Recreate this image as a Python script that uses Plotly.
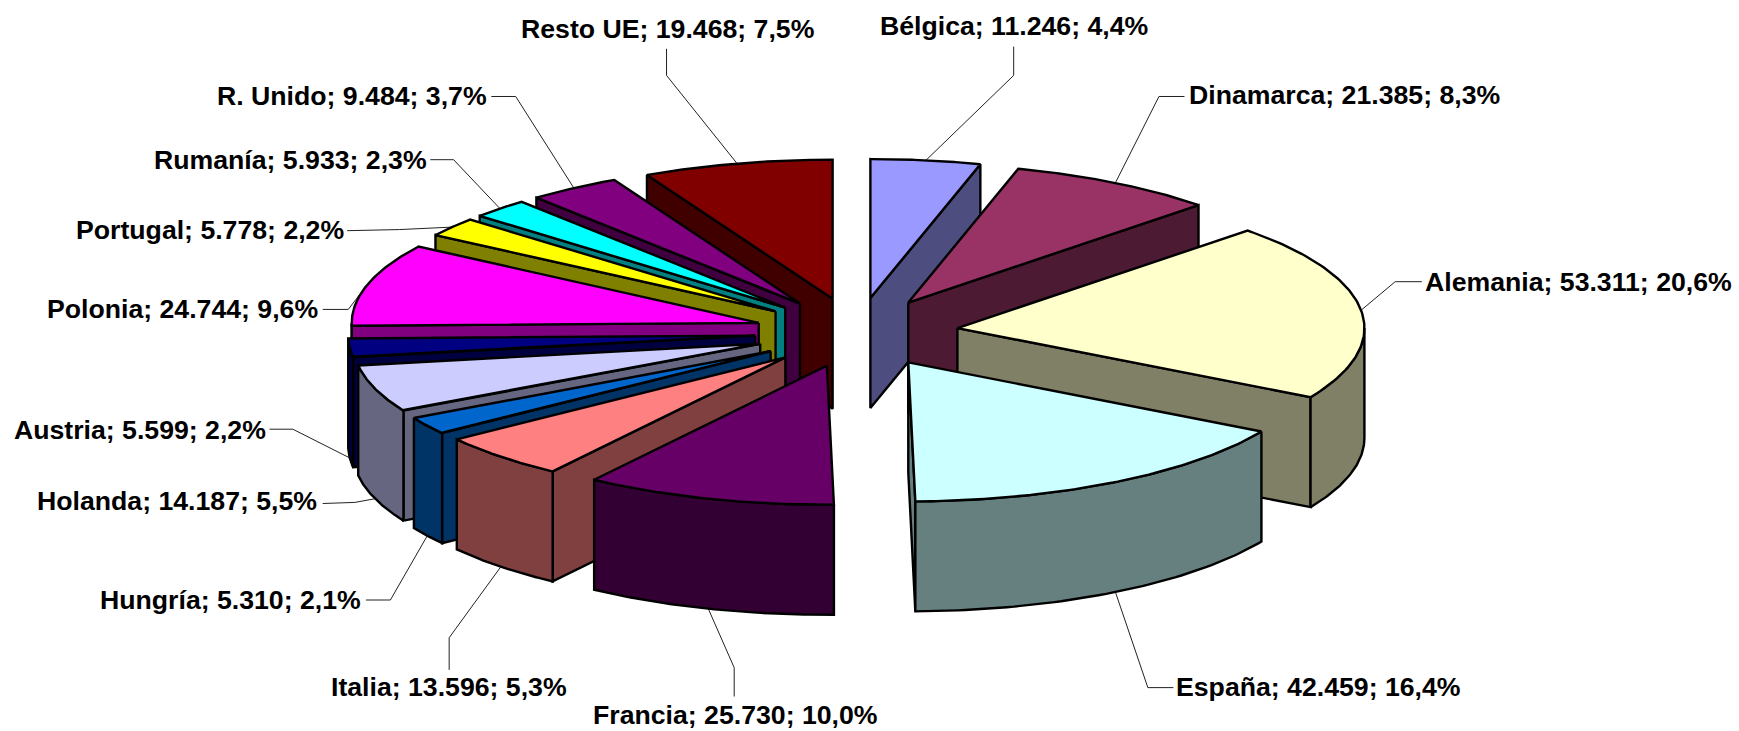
import numpy as np
import plotly.graph_objects as go

# ---- data, clockwise from 12 o'clock
countries = ["Bélgica", "Dinamarca", "Alemania", "España", "Francia", "Italia", "Hungría",
             "Holanda", "Austria", "Polonia", "Portugal", "Rumanía", "R. Unido", "Resto UE"]
values = [11246, 21385, 53311, 42459, 25730, 13596, 5310,
          14187, 5599, 24744, 5778, 5933, 9484, 19468]
top_colors = ["#9999FF", "#993366", "#FFFFCC", "#CCFFFF", "#660066", "#FF8080", "#0066CC",
              "#CCCCFF", "#000080", "#FF00FF", "#FFFF00", "#00FFFF", "#800080", "#800000"]
side_colors = ["#4D4D80", "#4D1A33", "#808066", "#668080", "#330033", "#804040", "#003366",
               "#666680", "#000040", "#800080", "#808000", "#008080", "#400040", "#400000"]

# ---- pie geometry (pixels)
W, H = 1739, 731
CX, CY = 856.5, 332.5
RX, RY = 407, 139
DEPTH = 110
EXPLODE = 0.25
EDGE = 2.4

# ---- label layout (pixels, in the 1739-wide frame)
S = 1739 / 1568
label_xy = [(914, 23), (1212, 86), (1423, 254), (1189, 619), (663, 645), (405, 619), (208, 541),
            (160, 452), (126, 388), (165, 279), (189, 207), (262, 144), (317, 87), (602, 26)]
leader_knots = [
    [(914, 42), (914, 68)], [(1068, 87), (1045, 87)], [(1282, 254), (1258, 254)],
    [(1058, 620), (1035, 620)], [(662, 628), (662, 602)], [(405, 604), (405, 575)],
    [(330, 541), (352, 541)], [(291, 454), (320, 453)], [(243, 387), (264, 387)],
    [(291, 279), (314, 279)], [(313, 208), (360, 207)], [(388, 144), (409, 144)],
    [(443, 87), (465, 87)], [(601, 44), (601, 68)],
]

total = sum(values)
fracs = np.array(values) / total
ends = np.cumsum(fracs) * 2 * np.pi
starts = ends - fracs * 2 * np.pi
mids = (starts + ends) / 2


def rim(ax, ay, t):
    return ax + RX * np.sin(t), ay - RY * np.cos(t)


def face(fig, xs, ys, color):
    fig.add_trace(go.Scatter(x=list(xs), y=list(ys), mode="lines", fill="toself", fillcolor=color,
                             line=dict(color="black", width=EDGE), hoverinfo="skip",
                             showlegend=False))


fig = go.Figure()
apex = [(CX + EXPLODE * RX * np.sin(m), CY - EXPLODE * RY * np.cos(m)) for m in mids]

# leader lines go behind the slices
for i, knots in enumerate(leader_knots):
    ax, ay = apex[i]
    ex, ey = rim(ax, ay, mids[i])
    if np.cos(mids[i]) < 0:
        ey += DEPTH
    xs = [k[0] * S for k in knots] + [ex]
    ys = [k[1] * S for k in knots] + [ey]
    fig.add_trace(go.Scatter(x=xs, y=ys, mode="lines", line=dict(color="#222222", width=1),
                             hoverinfo="skip", showlegend=False))

# painter's order: back slices first
for i in sorted(range(len(values)), key=lambda k: -np.cos(mids[k])):
    ax, ay = apex[i]
    t1, t2 = starts[i], ends[i]
    # cut faces
    for t, vis in ((t1, np.sin(t1) < -1e-6), (t2, np.sin(t2) > 1e-6)):
        if vis:
            rx, ry = rim(ax, ay, t)
            face(fig, [ax, rx, rx, ax, ax], [ay, ry, ry + DEPTH, ay + DEPTH, ay], side_colors[i])
    # outer wall (front half only)
    lo, hi = max(t1, np.pi / 2), min(t2, 3 * np.pi / 2)
    if hi > lo:
        ts = np.linspace(lo, hi, 60)
        rx, ry = rim(ax, ay, ts)
        face(fig, np.r_[rx, rx[::-1], rx[0]], np.r_[ry, ry[::-1] + DEPTH, ry[0]], side_colors[i])
    # top face
    ts = np.linspace(t1, t2, 80)
    rx, ry = rim(ax, ay, ts)
    face(fig, np.r_[ax, rx, ax], np.r_[ay, ry, ay], top_colors[i])

# labels
for i, name in enumerate(countries):
    txt = f"{name}; {values[i]:,}".replace(",", ".") + f"; {100 * fracs[i]:.1f}%".replace(".", ",")
    fig.add_annotation(x=label_xy[i][0] * S, y=label_xy[i][1] * S, text=f"<b>{txt}</b>",
                       showarrow=False, xanchor="center", yanchor="middle",
                       font=dict(family="Liberation Sans", size=26.67, color="black"))

fig.update_layout(width=W, height=H, margin=dict(l=0, r=0, t=0, b=0), autosize=False,
                  paper_bgcolor="white", plot_bgcolor="white", showlegend=False,
                  xaxis=dict(range=[0, W], visible=False, fixedrange=True),
                  yaxis=dict(range=[H, 0], visible=False, fixedrange=True))
fig.write_html("out.html", config=dict(displayModeBar=False),
               post_script="document.body.style.margin='0';")
